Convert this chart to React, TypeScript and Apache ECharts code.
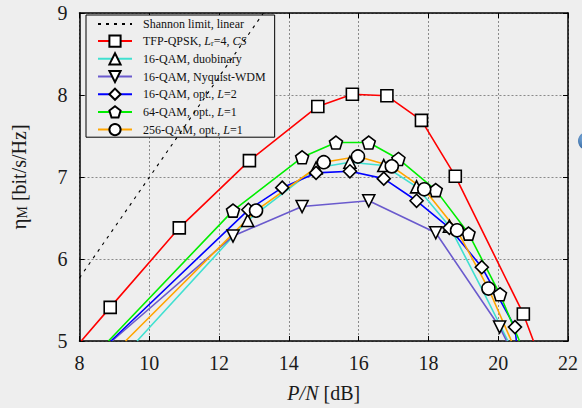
import React, { useEffect, useRef } from "react";
import * as echarts from "echarts";

// ---- data ----
const xTicks = [8, 10, 12, 14, 16, 18, 20, 22];
const yTicks = [5, 6, 7, 8, 9];

const shannonX = [8.0, 13.27];
const shannonY = [5.77, 9.0];

const tfpX = [8.88, 10.86, 12.87, 14.83, 15.82, 16.81, 17.8, 18.77, 20.72];
const tfpY = [5.41, 6.38, 7.2, 7.86, 8.01, 7.99, 7.69, 7.01, 5.33];
const tfpEnds = [[8.05, 5.0], [21.01, 5.0]];

const duoX = [12.82, 14.78, 15.75, 16.72, 17.66, 18.6];
const duoY = [6.47, 7.11, 7.18, 7.14, 6.88, 6.4];
const duoEnds = [[9.65, 5.0], [20.28, 5.0]];
const duoExtra = [[19.55, 5.62]];

const nyqX = [12.4, 14.38, 16.29, 18.21, 20.04];
const nyqY = [6.28, 6.64, 6.71, 6.32, 5.17];
const nyqEnds = [[8.93, 5.0], [20.24, 5.0]];

const opt16X = [12.84, 13.81, 14.78, 15.75, 16.72, 17.66, 18.6, 19.53, 20.48];
const opt16Y = [6.6, 6.87, 7.05, 7.07, 6.98, 6.71, 6.38, 5.9, 5.17];
const opt16Ends = [[8.9, 5.0], [20.52, 5.0]];

const q64X = [12.4, 14.38, 15.35, 16.29, 17.14, 18.21, 19.15, 20.05];
const q64Y = [6.59, 7.24, 7.42, 7.42, 7.22, 6.84, 6.31, 5.57];
const q64Ends = [[8.83, 5.0], [20.61, 5.0]];

const q256X = [13.06, 15.0, 15.98, 16.95, 17.88, 18.82, 19.72];
const q256Y = [6.59, 7.18, 7.25, 7.13, 6.85, 6.35, 5.64];
const q256Ends = [[9.32, 5.0], [20.38, 5.0]];

const names = [
  "Shannon limit, linear",
  "TFP-QPSK, Lr=4, CS",
  "16-QAM, duobinary",
  "16-QAM, Nyquist-WDM",
  "16-QAM, opt., L=2",
  "64-QAM, opt., L=1",
  "256-QAM, opt., L=1",
];

const legendRich: Record<string, string> = {
  "Shannon limit, linear": "{n|Shannon limit, linear}",
  "TFP-QPSK, Lr=4, CS": "{n|TFP-QPSK, }{i|L}{s|r}{n|=4, }{i|CS}",
  "16-QAM, duobinary": "{n|16-QAM, duobinary}",
  "16-QAM, Nyquist-WDM": "{n|16-QAM, Nyquist-WDM}",
  "16-QAM, opt., L=2": "{n|16-QAM, opt., }{i|L}{n|=2}",
  "64-QAM, opt., L=1": "{n|64-QAM, opt., }{i|L}{n|=1}",
  "256-QAM, opt., L=1": "{n|256-QAM, opt., }{i|L}{n|=1}",
};

const FONT = "Liberation Serif, serif";
const PENTAGON = "path://M0,-1L0.951,-0.309L0.588,0.809L-0.588,0.809L-0.951,-0.309Z";

function build(xs: number[], ys: number[], ends: number[][], extra: number[][] = []) {
  const pts: any[] = xs.map((x, i) => ({ value: [x, ys[i]] }));
  extra.forEach((p) => pts.push({ value: p, symbol: "none" }));
  pts.push({ value: ends[0], symbol: "none" });
  pts.push({ value: ends[1], symbol: "none" });
  pts.sort((a, b) => a.value[0] - b.value[0]);
  return pts;
}

function lineSeries(name: string, color: string, data: any[], symbol: string, size: number, rotate = 0) {
  return {
    name,
    type: "line",
    data,
    symbol,
    symbolSize: size,
    symbolRotate: rotate,
    showAllSymbol: true,
    lineStyle: { color, width: 1.6 },
    itemStyle: { color: "#ffffff", borderColor: "#000000", borderWidth: 1.6 },
    emphasis: { disabled: true },
    z: 3,
  };
}

export default function App() {
  const ref = useRef<HTMLDivElement>(null);
  useEffect(() => {
    if (!ref.current) return;
    const chart = echarts.init(ref.current, null, { renderer: "svg" });
    const axisLabel = {
      fontFamily: FONT,
      fontSize: 20,
      color: "#1a1a1a",
      formatter: (v: number) => "{t|" + v + "}",
      rich: { t: { fontFamily: FONT, fontSize: 20, color: "#1a1a1a" } },
    };
    const option: any = {
      animation: false,
      backgroundColor: "#eeeeee",
      textStyle: { fontFamily: FONT },
      grid: { left: 74, top: 13, width: 494, height: 334, containLabel: false },
      xAxis: [
        {
          type: "value",
          min: xTicks[0],
          max: xTicks[xTicks.length - 1],
          interval: 2,
          axisLine: { show: true, onZero: false, lineStyle: { color: "#000", width: 1.5 } },
          axisTick: { show: true, inside: true, length: 5, lineStyle: { color: "#000" } },
          axisLabel: { ...axisLabel, margin: 12 },
          splitLine: { show: true, lineStyle: { color: "#8a8a8a", type: [2, 2], width: 1 } },
          name: "{i|P/N}{n| [dB]}",
          nameLocation: "middle",
          nameGap: 42,
          nameTextStyle: {
            fontFamily: FONT,
            rich: {
              i: { fontFamily: FONT, fontSize: 20, fontStyle: "italic", color: "#1a1a1a" },
              n: { fontFamily: FONT, fontSize: 20, color: "#1a1a1a" },
            },
          },
        },
        {
          type: "value",
          position: "top",
          min: xTicks[0],
          max: xTicks[xTicks.length - 1],
          interval: 2,
          axisLine: { show: true, onZero: false, lineStyle: { color: "#000", width: 1.5 } },
          axisTick: { show: true, inside: true, length: 5, lineStyle: { color: "#000" } },
          axisLabel: { show: false },
          splitLine: { show: false },
        },
      ],
      yAxis: [
        {
          type: "value",
          min: yTicks[0],
          max: yTicks[yTicks.length - 1],
          interval: 1,
          axisLine: { show: true, onZero: false, lineStyle: { color: "#000", width: 1.5 } },
          axisTick: { show: true, inside: true, length: 5, lineStyle: { color: "#000" } },
          axisLabel: { ...axisLabel, margin: 12 },
          splitLine: { show: true, lineStyle: { color: "#8a8a8a", type: [2, 2], width: 1 } },
          name: "{e|η}{s|M}{n| [bit/s/Hz]}",
          nameLocation: "middle",
          nameGap: 50,
          nameTextStyle: {
            fontFamily: FONT,
            rich: {
              e: { fontFamily: FONT, fontSize: 21, color: "#1a1a1a" },
              s: { fontFamily: FONT, fontSize: 14, color: "#1a1a1a", padding: [8, 0, 0, 0] },
              n: { fontFamily: FONT, fontSize: 20, color: "#1a1a1a" },
            },
          },
        },
        {
          type: "value",
          position: "right",
          min: yTicks[0],
          max: yTicks[yTicks.length - 1],
          interval: 1,
          axisLine: { show: true, onZero: false, lineStyle: { color: "#000", width: 1.5 } },
          axisTick: { show: true, inside: true, length: 5, lineStyle: { color: "#000" } },
          axisLabel: { show: false },
          splitLine: { show: false },
        },
      ],
      legend: {
        data: names.map((n, i) => (i === 0 ? { name: n, itemStyle: { opacity: 0 } } : { name: n })),
        orient: "vertical",
        left: 86,
        top: 15,
        itemWidth: 34,
        itemHeight: 14,
        itemGap: 4.5,
        padding: [3, 9, 1, 11],
        borderColor: "#000",
        borderWidth: 1,
        backgroundColor: "#eeeeee",
        z: 4,
        selectedMode: false,
        formatter: (name: string) => legendRich[name] || name,
        textStyle: {
          fontFamily: FONT,
          fontSize: 12,
          color: "#111",
          padding: [0, 0, 0, 6],
          rich: {
            n: { fontFamily: FONT, fontSize: 12, color: "#111", lineHeight: 14 },
            i: { fontFamily: FONT, fontSize: 12, color: "#111", fontStyle: "italic", lineHeight: 14 },
            s: { fontFamily: FONT, fontSize: 8, color: "#111", padding: [5, 0, 0, 0], lineHeight: 14 },
          },
        },
      },
      series: [
        {
          name: names[0],
          type: "line",
          data: shannonX.map((x, i) => [x, shannonY[i]]),
          symbol: "none",
          lineStyle: { color: "#000", width: 1.1, type: [3, 5] },
          itemStyle: { color: "#000" },
          z: 6,
        },
        lineSeries(names[1], "#ff0000", build(tfpX, tfpY, tfpEnds), "rect", 12),
        lineSeries(names[2], "#40e0d0", build(duoX, duoY, duoEnds, duoExtra), "triangle", 12),
        lineSeries(names[3], "#6a5acd", build(nyqX, nyqY, nyqEnds), "triangle", 12, 180),
        lineSeries(names[4], "#0000ff", build(opt16X, opt16Y, opt16Ends), "diamond", 13),
        lineSeries(names[5], "#00ee00", build(q64X, q64Y, q64Ends), PENTAGON, 13),
        lineSeries(names[6], "#ffa500", build(q256X, q256Y, q256Ends), "circle", 13),
      ],
      graphic: [
        {
          type: "circle",
          shape: { cx: 587, cy: 141, r: 9 },
          style: {
            fill: new echarts.graphic.RadialGradient(0.35, 0.35, 0.8, [
              { offset: 0, color: "#7fb0e0" },
              { offset: 1, color: "#1d4f8a" },
            ]),
          },
        },
      ],
    };
    chart.setOption(option);
    return () => chart.dispose();
  }, []);
  return (
    <div
      ref={ref}
      style={{ position: "fixed", left: 0, top: 0, width: 582, height: 408, background: "#eeeeee" }}
    />
  );
}
